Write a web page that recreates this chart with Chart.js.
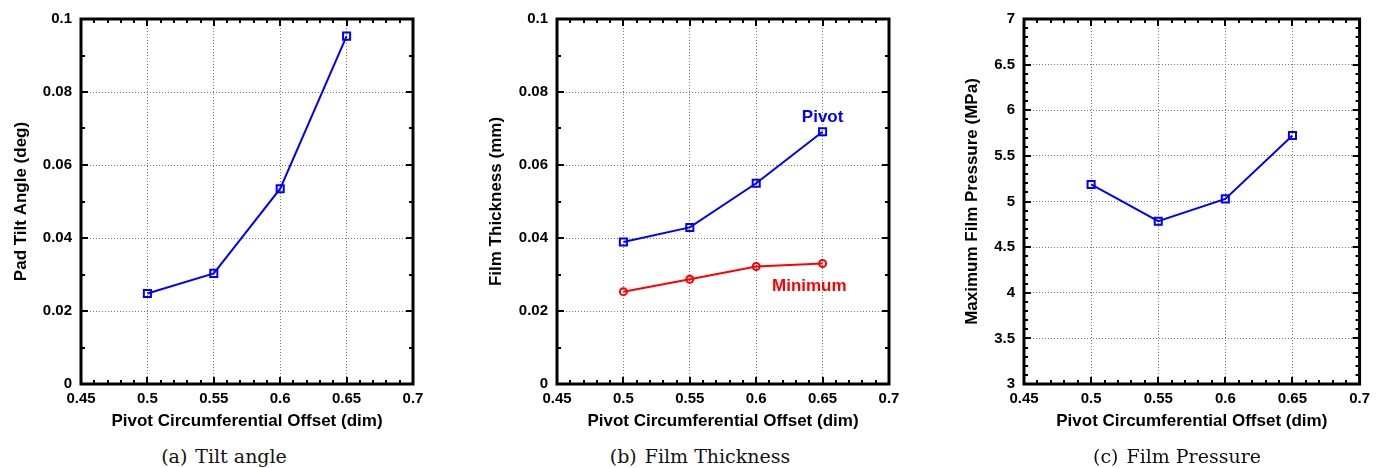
<!DOCTYPE html>
<html>
<head>
<meta charset="utf-8">
<script src="https://cdn.jsdelivr.net/npm/chart.js@4.4.1/dist/chart.umd.min.js"></script>
<style>
  html, body { margin: 0; padding: 0; background: #fff; }
  body { width: 1376px; height: 468px; position: relative; overflow: hidden; }
  .panel { position: absolute; top: 0; width: 460px; height: 440px; }
  .caption { position: absolute; top: 445px; font-family: "DejaVu Serif", serif; font-size: 19px; color: #111;
             transform: translateX(-50%); white-space: nowrap; line-height: 22px; }
  .caption span { margin-right: 8px; }
</style>
</head>
<body>
<div class="panel" style="left:0px"><canvas id="tilt" width="460" height="440"></canvas></div>
<div class="panel" style="left:460px"><canvas id="film" width="460" height="440"></canvas></div>
<div class="panel" style="left:916px"><canvas id="press" width="460" height="440"></canvas></div>
<div class="caption" style="left:224px"><span>(a)</span>Tilt angle</div>
<div class="caption" style="left:700px"><span>(b)</span>Film Thickness</div>
<div class="caption" style="left:1177px"><span>(c)</span>Film Pressure</div>
<script>
// pivot offset sweep
const offsets = [0.5, 0.55, 0.6, 0.65];
const tiltAngle = [0.0248, 0.0303, 0.0535, 0.0953];
const pivotFilm = [0.0389, 0.0429, 0.0550, 0.0691];
const minFilm = [0.0253, 0.0287, 0.0322, 0.0330];
const maxPressure = [5.187, 4.784, 5.029, 5.724];

const offsetTicks = [0.45, 0.5, 0.55, 0.6, 0.65, 0.7];
const smallTicks = [0, 0.02, 0.04, 0.06, 0.08, 0.1];
const pressureTicks = [3, 3.5, 4, 4.5, 5, 5.5, 6, 6.5, 7];

const pivotLabelAt = [0.65, 0.0731];
const minLabelAt = [0.640, 0.0269];

const BLUE = '#0000ff', RED = '#ff0000';

// inward major/minor ticks on all four sides plus the heavy box
const framePlugin = {
  id: 'frame',
  afterDraw(chart, args, o) {
    const ctx = chart.ctx, a = chart.chartArea;
    const xs = chart.scales.x, ys = chart.scales.y;
    ctx.save();
    ctx.strokeStyle = '#000';
    ctx.lineWidth = 2;
    const sub = (ticks, n) => {
      const out = [];
      for (let i = 0; i < ticks.length - 1; i++)
        for (let k = 1; k < n; k++) out.push(ticks[i] + (ticks[i + 1] - ticks[i]) * k / n);
      return out;
    };
    const tickX = (vals, len) => vals.forEach(v => {
      const px = Math.round(xs.getPixelForValue(v));
      ctx.beginPath();
      ctx.moveTo(px, a.bottom); ctx.lineTo(px, a.bottom - len);
      ctx.moveTo(px, a.top); ctx.lineTo(px, a.top + len);
      ctx.stroke();
    });
    const tickY = (vals, len) => vals.forEach(v => {
      const py = Math.round(ys.getPixelForValue(v));
      ctx.beginPath();
      ctx.moveTo(a.left, py); ctx.lineTo(a.left + len, py);
      ctx.moveTo(a.right, py); ctx.lineTo(a.right - len, py);
      ctx.stroke();
    });
    tickX(o.xTicks, 7);
    tickX(sub(o.xTicks, o.xMinor), 4);
    tickY(o.yTicks, 7);
    tickY(sub(o.yTicks, o.yMinor), 4);
    ctx.lineWidth = 3;
    ctx.strokeRect(a.left, a.top, a.right - a.left, a.bottom - a.top);
    ctx.restore();
  }
};

// text labels placed in data coordinates
const notePlugin = {
  id: 'notes',
  afterDatasetsDraw(chart, args, o) {
    if (!o.items) return;
    const ctx = chart.ctx;
    ctx.save();
    ctx.font = 'bold 17px "Liberation Sans", Arial, sans-serif';
    ctx.textAlign = 'center';
    ctx.textBaseline = 'middle';
    o.items.forEach(it => {
      ctx.fillStyle = it.color;
      ctx.fillText(it.text, chart.scales.x.getPixelForValue(it.at[0]), chart.scales.y.getPixelForValue(it.at[1]));
    });
    ctx.restore();
  }
};

const tickFont = { family: '"Liberation Sans", Arial, sans-serif', size: 15, weight: 'bold' };
const titleFont = { family: '"Liberation Sans", Arial, sans-serif', size: 17, weight: 'bold', lineHeight: 1.2 };

function series(values, color, style, radius) {
  return {
    data: offsets.map((x, i) => ({ x: x, y: values[i] })),
    borderColor: color,
    borderWidth: 2,
    pointStyle: style,
    pointRadius: radius,
    pointBorderWidth: 2,
    pointBorderColor: color,
    pointBackgroundColor: 'rgba(0,0,0,0)',
    tension: 0
  };
}

function makePanel(id, cfg) {
  new Chart(document.getElementById(id), {
    type: 'scatter',
    data: { datasets: cfg.datasets.map(d => Object.assign(d, { showLine: true })) },
    plugins: [framePlugin, notePlugin],
    options: {
      responsive: false,
      animation: false,
      devicePixelRatio: 1,
      layout: { padding: { top: 19, right: cfg.padRight, left: 0, bottom: 0 } },
      plugins: {
        legend: { display: false },
        tooltip: { enabled: false },
        frame: { xTicks: offsetTicks, yTicks: cfg.yTicks, xMinor: 5, yMinor: cfg.yMinor },
        notes: { items: cfg.notes }
      },
      scales: {
        x: {
          type: 'linear', min: 0.45, max: 0.7,
          afterBuildTicks: s => { s.ticks = offsetTicks.map(v => ({ value: v })); },
          afterFit: s => { s.height = 56; },
          ticks: { font: tickFont, color: '#000', padding: 6, callback: v => String(v), maxRotation: 0 },
          grid: { color: '#777', lineWidth: 1, drawTicks: false },
          border: { display: false, dash: [1, 2] },
          title: { display: true, text: 'Pivot Circumferential Offset (dim)', font: titleFont, color: '#000',
                   padding: { top: 0, bottom: 8 } }
        },
        y: {
          type: 'linear', min: cfg.yTicks[0], max: cfg.yTicks[cfg.yTicks.length - 1],
          afterBuildTicks: s => { s.ticks = cfg.yTicks.map(v => ({ value: v })); },
          afterFit: s => { s.width = cfg.yWidth; },
          ticks: { font: tickFont, color: '#000', padding: 9, callback: v => String(v) },
          grid: { color: '#777', lineWidth: 1, drawTicks: false },
          border: { display: false, dash: [1, 2] },
          title: { display: true, text: cfg.yTitle, font: titleFont, color: '#000',
                   padding: { top: cfg.yTitlePad, bottom: 0 } }
        }
      }
    }
  });
}

makePanel('tilt', {
  datasets: [series(tiltAngle, BLUE, 'rect', 5)],
  yTicks: smallTicks, yMinor: 2, yWidth: 81, padRight: 47, yTitlePad: 11,
  yTitle: 'Pad Tilt Angle (deg)'
});

makePanel('film', {
  datasets: [series(pivotFilm, BLUE, 'rect', 5), series(minFilm, RED, 'circle', 3.5)],
  yTicks: smallTicks, yMinor: 2, yWidth: 97, padRight: 31, yTitlePad: 26,
  yTitle: 'Film Thickness (mm)',
  notes: [
    { text: 'Pivot', color: BLUE, at: pivotLabelAt },
    { text: 'Minimum', color: RED, at: minLabelAt }
  ]
});

makePanel('press', {
  datasets: [series(maxPressure, BLUE, 'rect', 5)],
  yTicks: pressureTicks, yMinor: 5, yWidth: 108, padRight: 11, yTitlePad: 46,
  yTitle: 'Maximum Film Pressure (MPa)'
});
</script>
</body>
</html>
